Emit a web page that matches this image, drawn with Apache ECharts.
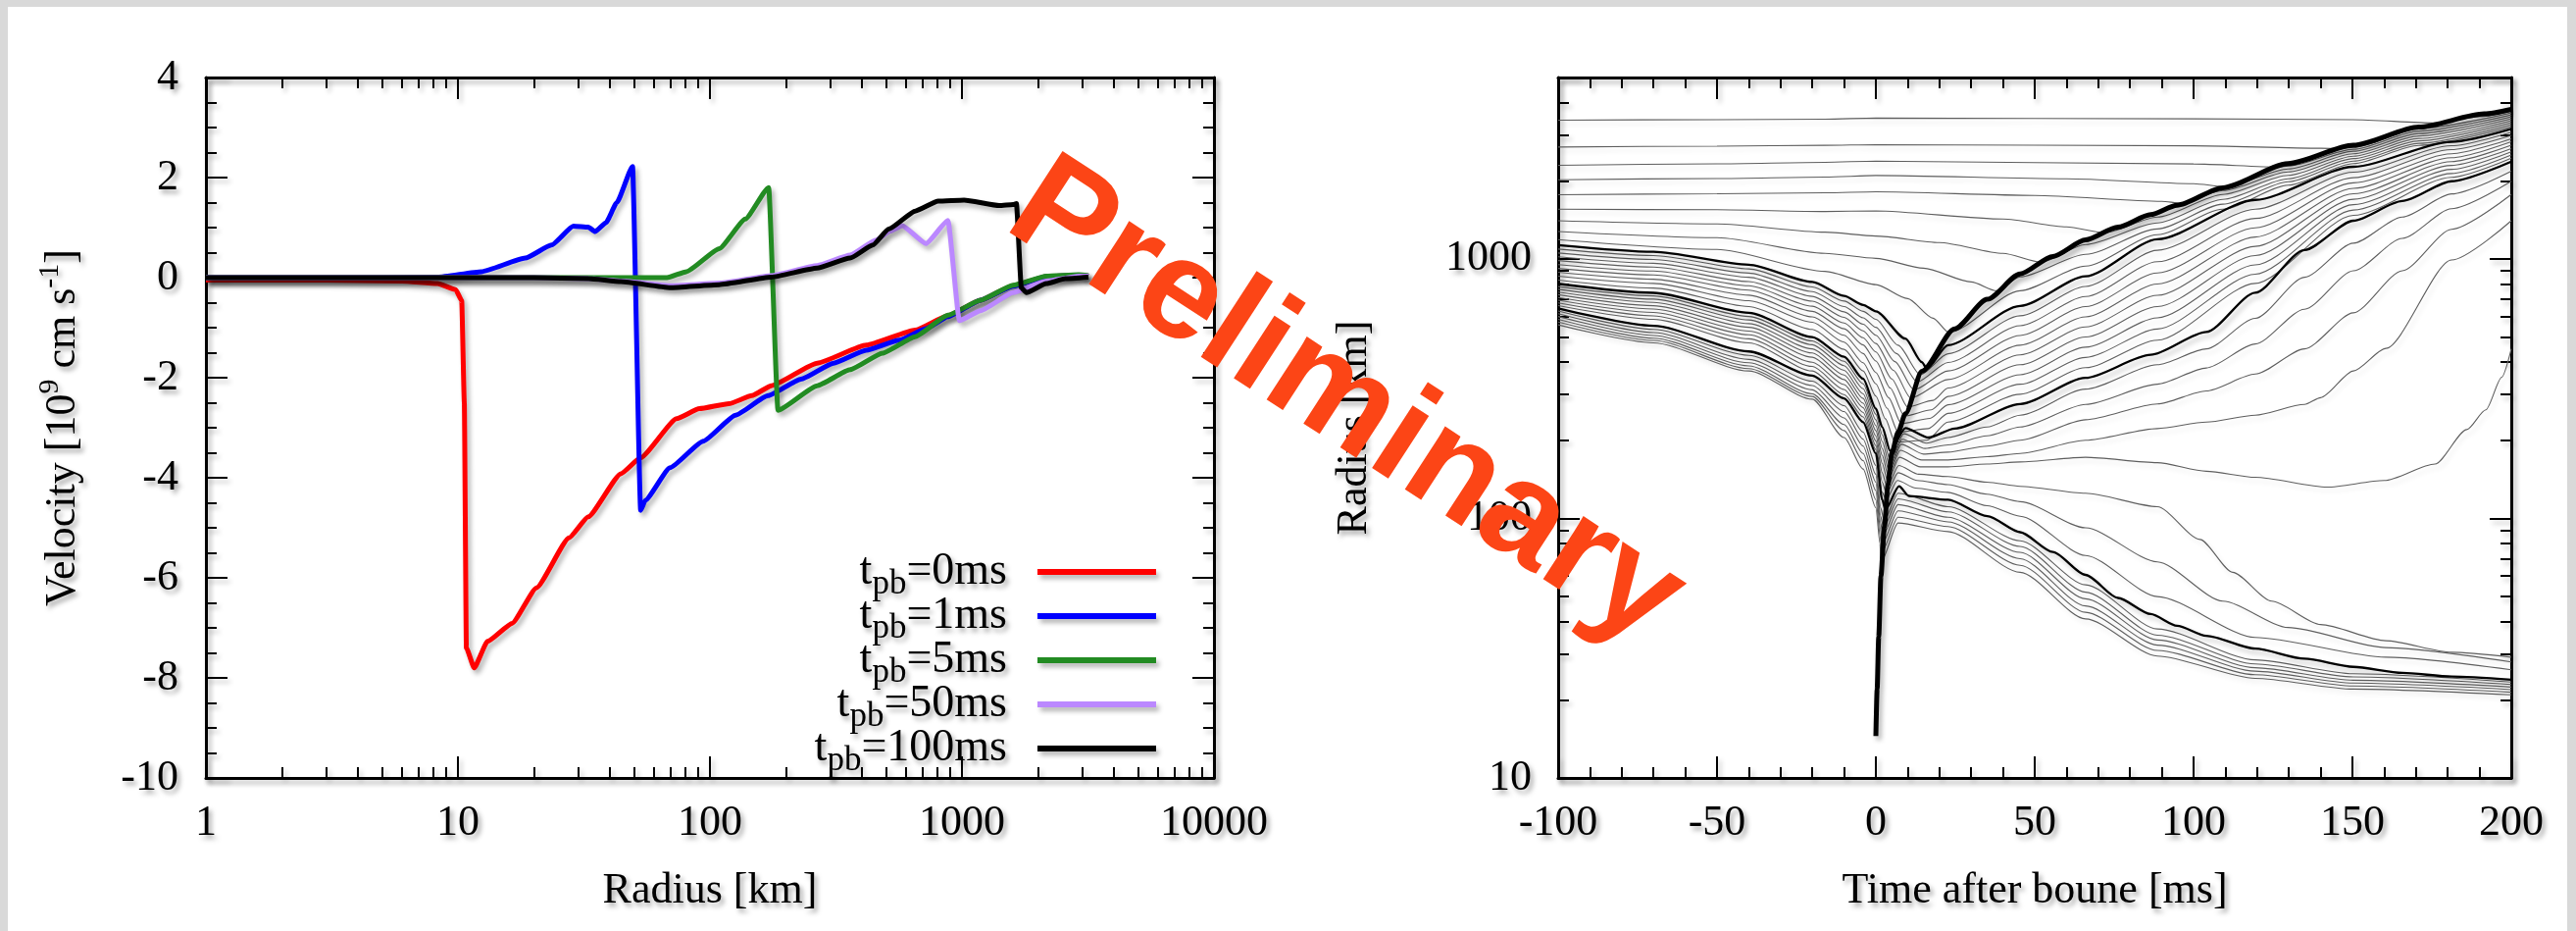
<!DOCTYPE html>
<html>
<head>
<meta charset="utf-8">
<script src="https://cdn.jsdelivr.net/npm/echarts@6/dist/echarts.min.js"></script>
<style>
  html, body { margin: 0; padding: 0; background: #fff; }
  #main { width: 2627px; height: 949px; }
</style>
</head>
<body>
<div id="main"></div>
<script>
// ---------- left panel: velocity profiles  [radius km, velocity 1e9 cm/s]
var tpb0 = [[1,-0.05],[3,-0.05],[6,-0.07],[8.3,-0.12],[9.8,-0.24],[10.35,-0.46],[10.6,-2.5],[10.8,-7.4],[11.6,-7.8],[13.1,-7.27],[16.4,-6.91],[20.5,-6.2],[27.6,-5.2],[32.9,-4.78],[44.3,-3.92],[53.1,-3.6],[73.7,-2.82],[90.8,-2.62],[118.9,-2.52],[146.6,-2.36],[175.4,-2.16],[266.3,-1.71],[416.9,-1.35],[651.9,-1.05],[880,-0.76],[1186,-0.45],[1594,-0.16],[2161,0.02],[2904,0.05],[3176,0.03]];
var tpb1 = [[1,0],[5,0],[8.3,0.01],[12.4,0.12],[18.5,0.39],[23.5,0.65],[28.7,1.03],[32.9,1.01],[35,0.92],[38.7,1.1],[42.7,1.5],[49.3,2.22],[53.1,-4.65],[55.4,-4.45],[69.4,-3.8],[94,-3.27],[126.3,-2.75],[170.1,-2.36],[229.6,-2.03],[309.3,-1.71],[416.9,-1.45],[563.6,-1.25],[720,-1.02],[880,-0.78],[1186,-0.45],[1594,-0.17],[2161,0.02],[2904,0.05],[3176,0.03]];
var tpb5 = [[1,0],[30,0],[67.5,0],[80.7,0.12],[108.9,0.58],[138.1,1.17],[171,1.8],[186.2,-2.65],[266.3,-2.16],[360,-1.84],[483.9,-1.51],[651.9,-1.18],[880,-0.75],[1186,-0.45],[1594,-0.15],[2161,0.03],[2904,0.06],[3176,0.04]];
var tpb50 = [[1,0],[20,0],[33,-0.02],[45,-0.07],[70,-0.16],[110,-0.11],[175,0.04],[266,0.24],[360,0.45],[456,0.75],[520,0.93],[579,1.04],[720,0.68],[880,1.14],[977,-0.86],[1186,-0.66],[1594,-0.3],[2161,-0.07],[2904,0.03],[3176,0.03]];
var tpb100 = [[1,0],[20,0],[33,-0.02],[44.3,-0.08],[69.4,-0.2],[108.9,-0.14],[175,0.01],[266,0.19],[360,0.39],[443,0.65],[512,0.97],[652,1.33],[805,1.53],[1020,1.55],[1406,1.44],[1594,1.46],[1645,1.48],[1720,-0.2],[1800,-0.3],[2161,-0.12],[2570,-0.02],[3176,0.01]];
var profileNames = ['tpb=0ms', 'tpb=1ms', 'tpb=5ms', 'tpb=50ms', 'tpb=100ms'];
var profileColors = ['#ff0000', '#0000ff', '#228b22', '#bb88ff', '#000000'];
var profiles = [tpb0, tpb1, tpb5, tpb50, tpb100];

// ---------- right panel: mass shell trajectories  [time after bounce ms, radius km]
var shockPath = [[0,14.5],[0.4,22],[0.9,35],[1.6,60],[2.7,93],[3.8,135],[5,178],[7,215],[9.3,253],[14.5,369],[24.8,538],[35.1,699],[45.4,875],[55.7,1022],[66,1183],[76.2,1326],[86.5,1480],[94.8,1610],[109.2,1880],[129.8,2330],[150.3,2740],[170.9,3220],[191.5,3620],[200,3770]];

var thickShells = [
  [[-100,1130],[-70,1065],[-40,950],[-20,815],[-10,720],[-4,665],[0,628],[9.3,493],[14.5,400],[16,378],[22.7,465],[45.4,659],[66,857],[88.6,1190],[119.4,1688],[150.3,2265],[181.2,2826],[200,3169]],
  [[-100,802],[-70,740],[-40,620],[-20,500],[-10,420],[-4,345],[0,265],[2,225],[4.5,182],[9.3,223],[16.6,205],[24.8,222],[45.4,276],[66,348],[86.5,427],[104,523],[119.4,741],[134.9,1082],[150.3,1403],[165.7,1671],[181.2,1992],[200,2371]],
  [[-100,645],[-70,552],[-40,440],[-20,355],[-10,290],[-4,235],[0,178],[2,118],[3,108],[7.3,133],[10.4,122],[22.7,118],[35.1,102],[45.4,88.5],[55.7,74.3],[66,60.6],[76.2,49.4],[86.5,42.8],[94.8,38.6],[104,35.3],[119.4,31.5],[134.9,28.8],[150.3,26.8],[165.7,25.4],[181.2,24.6],[200,23.9]]
];

var upperShells = [
  [[-100,3426],[-50,3441],[-16,3456],[0,3487],[100,3465],[150,3441],[176,3340],[190,3530],[200,3715]],
  [[-100,2698],[-50,2720],[-16,2739],[0,2756],[100,2727],[140,2668],[146,2660],[150.3,2692],[170.9,3176],[200,3651]],
  [[-100,2295],[-50,2325],[-16,2356],[0,2382],[100,2321],[127,2261],[129.8,2280],[150.3,2645],[170.9,3108],[200,3588]],
  [[-100,2019],[-50,2040],[-16,2067],[0,2096],[60,2036],[100,1950],[110,1899],[129.8,2222],[150.3,2599],[170.9,3041],[200,3526]],
  [[-100,1767],[-50,1782],[-16,1797],[0,1813],[50,1756],[90,1667],[96,1640],[109.2,1834],[129.8,2164],[150.3,2543],[170.9,2976],[200,3465]],
  [[-100,1554],[-50,1547],[-16,1523],[0,1531],[40,1424],[60,1328],[72,1261],[88.6,1449],[109.2,1772],[129.8,2099],[150.3,2488],[170.9,2911],[200,3405]],
  [[-100,1403],[-50,1364],[-16,1268],[0,1225],[20,1156],[40,1050],[52,971],[66,1136],[88.6,1376],[109.2,1696],[129.8,2036],[150.3,2435],[170.9,2849],[200,3346]],
  [[-100,1275],[-50,1207],[-16,1050],[0,1005],[15,921],[30,815],[38,754],[45.4,852],[66,1041],[88.6,1305],[109.2,1625],[129.8,1984],[150.3,2382],[170.9,2787],[200,3289]],
  [[-100,1186],[-50,1087],[-16,895],[0,796],[10,703],[18,591],[23,520],[45.4,754],[66,938],[88.6,1239],[109.2,1554],[129.8,1924],[150.3,2331],[170.9,2738],[200,3232]]
];

var midShells = [
  [[-100,1091],[-70,1030],[-40,915],[-20,780],[-10,688],[-4,628],[0,585],[7,465],[14,358],[22.7,431],[45.4,604],[66,783],[88.6,1079],[119.4,1554],[150.3,2158],[181.2,2729],[200,3076]],
  [[-100,1054],[-70,995],[-40,882],[-20,748],[-10,655],[-4,593],[0,545],[6.5,432],[13,336],[22.7,399],[45.4,553],[66,716],[88.6,975],[119.4,1432],[150.3,2056],[181.2,2636],[200,2992]],
  [[-100,1019],[-70,962],[-40,850],[-20,717],[-10,625],[-4,560],[0,508],[6,402],[12,313],[22.7,370],[45.4,507],[66,655],[88.6,883],[119.4,1318],[150.3,1963],[181.2,2541],[200,2904]],
  [[-100,985],[-70,930],[-40,818],[-20,687],[-10,595],[-4,528],[0,472],[5.5,372],[11,291],[22.7,343],[45.4,465],[66,598],[88.6,800],[119.4,1214],[150.3,1870],[181.2,2455],[200,2825]],
  [[-100,951],[-70,898],[-40,788],[-20,657],[-10,566],[-4,497],[0,438],[5,345],[10,269],[18,285],[22.7,318],[45.4,427],[66,547],[88.6,724],[119.4,1118],[150.3,1782],[181.2,2371],[200,2742]],
  [[-100,919],[-70,867],[-40,758],[-20,628],[-10,538],[-4,466],[0,404],[4.5,318],[9,248],[17.5,262],[22.7,295],[45.4,391],[66,500],[88.6,655],[119.4,1030],[150.3,1698],[181.2,2291],[200,2661]],
  [[-100,888],[-70,835],[-40,725],[-20,598],[-10,508],[-4,432],[0,365],[4,292],[8,232],[17,243],[22.7,274],[45.4,358],[66,457],[88.6,593],[119.4,948],[150.3,1618],[181.2,2213],[200,2588]],
  [[-100,858],[-70,805],[-40,690],[-20,570],[-10,478],[-4,398],[0,330],[3.5,266],[7,215],[16.5,222],[22.7,254],[45.4,329],[66,417],[88.6,537],[119.4,873],[150.3,1542],[181.2,2133],[200,2512]],
  [[-100,829],[-70,772],[-40,655],[-20,535],[-10,448],[-4,370],[0,296],[3,242],[6,197],[16,200],[22.7,235],[45.4,301],[66,381],[88.6,486],[119.4,805],[150.3,1472],[181.2,2061],[200,2443]]
];

var innerShells = [
  [[-100,782],[-70,720],[-40,600],[-20,483],[-10,403],[-4,330],[0,252],[2,210],[4.5,168],[8.8,212],[16,195],[22.7,205],[35,225],[45.4,250],[66,315],[88.6,391],[104,450],[119.4,590],[134.9,850],[150.3,1150],[165.7,1450],[181.2,1780],[200,2176]],
  [[-100,764],[-70,700],[-40,582],[-20,467],[-10,388],[-4,316],[0,240],[2,198],[4.3,160],[8.3,202],[15.5,186],[22.7,192],[35,208],[45.4,225],[66,275],[88.6,329],[104,380],[119.4,470],[134.9,640],[150.3,900],[165.7,1200],[181.2,1560],[200,1991]],
  [[-100,745],[-70,680],[-40,563],[-20,450],[-10,372],[-4,302],[0,228],[2,186],[4.1,153],[8,193],[15,177],[22.7,180],[35,190],[45.4,200],[66,240],[88.6,276],[104,310],[119.4,360],[134.9,450],[150.3,620],[165.7,900],[181.2,1300],[200,1770]],
  [[-100,728],[-70,660],[-40,545],[-20,434],[-10,357],[-4,290],[0,218],[2,175],[3.9,146],[7.7,183],[14.5,168],[22.7,168],[35,173],[45.4,178],[66,200],[88.6,222],[104,235],[119.4,250],[134.9,275],[140,292],[150.3,370],[160.5,452],[181.2,990],[200,1403]],
  [[-100,710],[-70,641],[-40,527],[-20,418],[-10,343],[-4,278],[0,208],[2,163],[3.7,139],[7.4,172],[14,158],[22.7,158],[35,162],[45.4,165],[66,172],[88.6,164],[104,152],[119.4,144],[142,132],[160,140],[176,162],[186,220],[192,262],[197,350],[200,450]],
  [[-100,693],[-70,622],[-40,510],[-20,400],[-10,328],[-4,267],[0,199],[2,150],[3.5,132],[7.2,160],[13.5,148],[22.7,145],[35,138],[45.4,133],[66,125],[88.6,111],[102,83],[112.3,62],[124.6,48],[140,39],[160.5,33.8],[181.2,30.5],[200,29.2]],
  [[-100,677],[-70,603],[-40,492],[-20,385],[-10,314],[-4,256],[0,191],[2,138],[3.3,125],[7,150],[13,140],[22.7,135],[35,124],[45.4,116],[66,92],[88.6,68],[109.2,48],[129.8,38],[160.5,31.8],[200,28]],
  [[-100,661],[-70,585],[-40,475],[-20,370],[-10,300],[-4,246],[0,184],[2,126],[3.2,118],[6.8,140],[12.5,131],[22.7,126],[35,112],[45.4,102],[66,72],[88.6,50],[119.4,34.8],[160.5,29.2],[200,26.1]]
];

var coreShells = [
  [[-100,630],[-70,535],[-40,425],[-20,338],[-10,272],[-4,215],[0,160],[1.5,110],[2.6,98],[7,125],[22.7,111],[45.4,82],[66,55.5],[88.6,37.5],[119.4,28.5],[150.3,25.2],[200,23.4]],
  [[-100,615],[-70,520],[-40,410],[-20,325],[-10,258],[-4,202],[0,148],[1.5,102],[2.4,92],[7,119],[22.7,106],[45.4,78],[66,52],[88.6,35.5],[119.4,27.5],[150.3,24.5],[200,22.9]],
  [[-100,600],[-70,507],[-40,398],[-20,313],[-10,244],[-4,190],[0,138],[1.5,96],[2.2,86],[7,113],[22.7,101],[45.4,74],[66,49],[88.6,34],[119.4,26.6],[150.3,23.8],[200,22.4]],
  [[-100,585],[-70,495],[-40,387],[-20,302],[-10,230],[-4,178],[0,128],[1.5,90],[2,80],[7,107],[22.7,97],[45.4,70],[66,46],[88.6,32.5],[119.4,25.8],[150.3,23.2],[200,21.9]],
  [[-100,571],[-70,485],[-40,378],[-20,295],[-10,218],[-4,167],[0,118],[1.4,85],[1.8,74],[7,101],[22.7,93],[45.4,66],[66,43.5],[88.6,31],[119.4,25],[150.3,22.6],[200,21.4]],
  [[-100,557],[-70,475],[-40,370],[-20,288],[-10,205],[-4,155],[0,110],[1.3,80],[1.6,68],[7,96],[22.7,89],[45.4,62],[66,41],[88.6,29.5],[119.4,24.2],[150.3,22],[200,20.9]]
];

// minor tick positions of the log axes, in decades
var minorLog = [2, 3, 4, 5, 6, 7, 8, 9];
var radiusMinor = [];
var shellMinor = [];
for (var d = 0; d < 4; d++) {
  minorLog.forEach(function (m) {
    radiusMinor.push(d + Math.log10(m));
    if (d >= 1 && d + Math.log10(m) < Math.log10(5000)) shellMinor.push(d + Math.log10(m));
  });
}

var serif = '"Liberation Serif", "Times New Roman", serif';
var txtShadow = { textShadowColor: 'rgba(0,0,0,0.35)', textShadowBlur: 5, textShadowOffsetX: 3, textShadowOffsetY: 4 };
function shade(a) { return { shadowColor: 'rgba(0,0,0,' + a + ')', shadowBlur: 5, shadowOffsetX: 3, shadowOffsetY: 4 }; }
var tickFont = Object.assign({ show: true, color: '#000', fontSize: 44, fontFamily: serif }, txtShadow);
var nameFont = Object.assign({ color: '#000', fontSize: 44, fontFamily: serif }, txtShadow);

function frame(o) {
  return Object.assign({
    axisLine: { show: true, onZero: false, lineStyle: Object.assign({ color: '#000', width: 3 }, shade(0.3)) },
    axisTick: { show: true, inside: true, length: 22, lineStyle: Object.assign({ color: '#000', width: 2 }, shade(0.25)) },
    splitLine: { show: false },
    axisLabel: { show: false }
  }, o);
}
function minorAxis(o, ticks) {
  return Object.assign({
    type: 'value',
    axisLine: { show: false, onZero: false },
    axisTick: { show: true, inside: true, length: 11, customValues: ticks, lineStyle: Object.assign({ color: '#000', width: 2 }, shade(0.25)) },
    splitLine: { show: false },
    axisLabel: { show: false }
  }, o);
}
var minorTick = function (n) {
  return { show: true, splitNumber: n, length: 11, lineStyle: Object.assign({ color: '#000', width: 2 }, shade(0.25)) };
};

var series = [];
profiles.forEach(function (p, i) {
  series.push({
    name: profileNames[i], type: 'line', xAxisIndex: 0, yAxisIndex: 0, data: p,
    symbol: 'none', smooth: 0.15, smoothMonotone: 'x', z: 3 + i,
    lineStyle: Object.assign({ color: profileColors[i], width: 5 }, shade(0.3)),
    itemStyle: { color: profileColors[i] }
  });
});
function shell(data, width, color, z, sh) {
  series.push({
    type: 'line', xAxisIndex: 4, yAxisIndex: 2, data: data, symbol: 'none',
    smooth: 0.25, smoothMonotone: 'x', z: z, silent: true,
    lineStyle: Object.assign({ color: color, width: width }, shade(sh))
  });
}
upperShells.concat(midShells, innerShells, coreShells).forEach(function (s) { shell(s, 1.1, '#5e5e5e', 2, 0.12); });
thickShells.forEach(function (s) { shell(s, 2.3, '#000', 3, 0.25); });
shell(shockPath, 5, '#000', 4, 0.3);

var option = {
  animation: false,
  backgroundColor: '#fff',
  grid: [
    { left: 210, top: 79, width: 1028, height: 714 },
    { left: 1589, top: 79, width: 972, height: 714 }
  ],
  legend: {
    data: profileNames,
    orient: 'vertical', align: 'right',
    right: 1443, top: 548,
    icon: 'rect',
    itemWidth: 121, itemHeight: 6, itemGap: -15,
    formatter: function (n) { return n.replace('tpb', 't{s|pb}'); },
    textStyle: Object.assign({
      color: '#000', fontSize: 46, fontFamily: serif, lineHeight: 60, padding: [0, 26, 0, 0],
      rich: { s: Object.assign({ fontSize: 35, fontFamily: serif, color: '#000', verticalAlign: 'bottom', lineHeight: 30 }, txtShadow) }
    }, txtShadow),
    itemStyle: Object.assign({}, shade(0.3))
  },
  xAxis: [
    frame({ gridIndex: 0, type: 'log', logBase: 10, min: 1, max: 10000, position: 'bottom',
      axisLabel: Object.assign({}, tickFont, { margin: 24, formatter: function (v) { return String(Math.round(v)); } }),
      name: 'Radius [km]', nameLocation: 'middle', nameGap: 93, nameTextStyle: nameFont }),
    frame({ gridIndex: 0, type: 'log', logBase: 10, min: 1, max: 10000, position: 'top' }),
    minorAxis({ gridIndex: 0, min: 0, max: 4, position: 'bottom' }, radiusMinor),
    minorAxis({ gridIndex: 0, min: 0, max: 4, position: 'top' }, radiusMinor),
    frame({ gridIndex: 1, type: 'value', min: -100, max: 200, interval: 50, position: 'bottom', minorTick: minorTick(5),
      axisLabel: Object.assign({}, tickFont, { margin: 24 }),
      name: 'Time after boune [ms]', nameLocation: 'middle', nameGap: 93, nameTextStyle: nameFont }),
    frame({ gridIndex: 1, type: 'value', min: -100, max: 200, interval: 50, position: 'top', minorTick: minorTick(5) })
  ],
  yAxis: [
    frame({ gridIndex: 0, type: 'value', min: -10, max: 4, interval: 2, position: 'left', minorTick: minorTick(4),
      axisLabel: Object.assign({}, tickFont, { margin: 28 }),
      name: 'Velocity [10{sup|9} cm s{sup|-1}]', nameLocation: 'middle', nameGap: 118,
      nameTextStyle: Object.assign({}, nameFont, { lineHeight: 56,
        rich: { sup: Object.assign({ fontSize: 30, fontFamily: serif, color: '#000', verticalAlign: 'top', lineHeight: 30 }, txtShadow) } }) }),
    frame({ gridIndex: 0, type: 'value', min: -10, max: 4, interval: 2, position: 'right', minorTick: minorTick(4) }),
    frame({ gridIndex: 1, type: 'log', logBase: 10, min: 10, max: 5000, position: 'left',
      axisLabel: Object.assign({}, tickFont, { margin: 27, formatter: function (v) {
        var l = Math.log10(v); return Math.abs(l - Math.round(l)) < 1e-6 ? String(Math.round(v)) : '';
      } }),
      name: 'Radius [km]', nameLocation: 'middle', nameGap: 186, nameTextStyle: nameFont }),
    frame({ gridIndex: 1, type: 'log', logBase: 10, min: 10, max: 5000, position: 'right' }),
    minorAxis({ gridIndex: 1, min: 1, max: Math.log10(5000), position: 'left' }, shellMinor),
    minorAxis({ gridIndex: 1, min: 1, max: Math.log10(5000), position: 'right' }, shellMinor)
  ],
  graphic: [
    { type: 'rect', silent: true, z: 90, shape: { x: 0, y: 0, width: 2627, height: 7 }, style: { fill: '#d9d9d9' } },
    { type: 'rect', silent: true, z: 90, shape: { x: 0, y: 0, width: 8, height: 949 }, style: { fill: '#d9d9d9' } },
    { type: 'rect', silent: true, z: 90, shape: { x: 2618, y: 0, width: 9, height: 949 }, style: { fill: '#d9d9d9' } },
    { type: 'text', silent: true, z: 100, x: 1372, y: 412, rotation: -33 * Math.PI / 180,
      style: { text: 'Preliminary', fontSize: 144, fontWeight: 'bold', fontFamily: '"Liberation Sans", Arial, sans-serif',
        fill: '#fc4516', align: 'center', verticalAlign: 'middle',
        shadowColor: 'rgba(0,0,0,0.35)', shadowBlur: 8, shadowOffsetX: 5, shadowOffsetY: 6 } }
  ],
  series: series
};

var chart = echarts.init(document.getElementById('main'));
chart.setOption(option);
</script>
</body>
</html>
